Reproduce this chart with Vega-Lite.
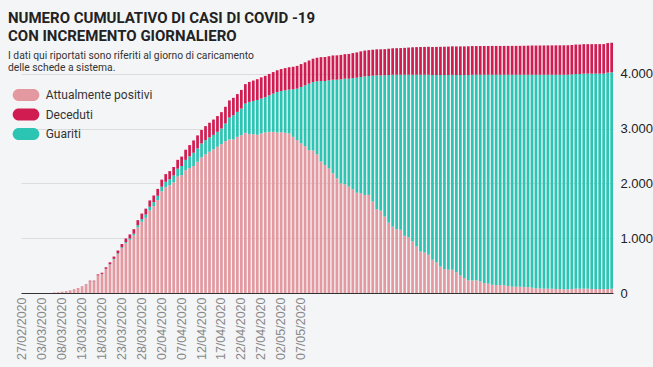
{
"$schema":"https://vega.github.io/schema/vega-lite/v6.json",
"width":592,"height":252,
"autosize":{"type":"none"},
"padding":{"left":21,"top":41,"right":40,"bottom":74},
"background":"#F4F5F7",
"title":{"text":["NUMERO CUMULATIVO DI CASI DI COVID -19","CON INCREMENTO GIORNALIERO"],
"subtitle":["I dati qui riportati sono riferiti al giorno di caricamento","delle schede a sistema."],
"anchor":"start","frame":"group","dx":-13,"offset":-32,
"font":"Roboto","fontSize":15,"fontWeight":"bold","color":"#222222","lineHeight":18,
"subtitleFont":"Roboto","subtitleFontSize":10.3,"subtitleColor":"#333333","subtitleLineHeight":11.5,"subtitlePadding":7},
"data":{"values":[
{"d":"27/02/2020","pos":0,"guar":0,"dec":0},
{"d":"28/02/2020","pos":0,"guar":0,"dec":0},
{"d":"29/02/2020","pos":0,"guar":0,"dec":0},
{"d":"01/03/2020","pos":0,"guar":0,"dec":0},
{"d":"02/03/2020","pos":0,"guar":0,"dec":0},
{"d":"03/03/2020","pos":0,"guar":0,"dec":0},
{"d":"04/03/2020","pos":0,"guar":0,"dec":0},
{"d":"05/03/2020","pos":0,"guar":0,"dec":0},
{"d":"06/03/2020","pos":10,"guar":0,"dec":0},
{"d":"07/03/2020","pos":15,"guar":0,"dec":0},
{"d":"08/03/2020","pos":25,"guar":0,"dec":0},
{"d":"09/03/2020","pos":35,"guar":0,"dec":0},
{"d":"10/03/2020","pos":50,"guar":0,"dec":0},
{"d":"11/03/2020","pos":68,"guar":0,"dec":2},
{"d":"12/03/2020","pos":87,"guar":0,"dec":3},
{"d":"13/03/2020","pos":113,"guar":2,"dec":5},
{"d":"14/03/2020","pos":144,"guar":3,"dec":8},
{"d":"15/03/2020","pos":210,"guar":3,"dec":12},
{"d":"16/03/2020","pos":210,"guar":3,"dec":12},
{"d":"17/03/2020","pos":319,"guar":3,"dec":18},
{"d":"18/03/2020","pos":345,"guar":3,"dec":22},
{"d":"19/03/2020","pos":437,"guar":5,"dec":28},
{"d":"20/03/2020","pos":517,"guar":8,"dec":35},
{"d":"21/03/2020","pos":613,"guar":10,"dec":42},
{"d":"22/03/2020","pos":713,"guar":12,"dec":50},
{"d":"23/03/2020","pos":822,"guar":15,"dec":58},
{"d":"24/03/2020","pos":909,"guar":20,"dec":66},
{"d":"25/03/2020","pos":971,"guar":25,"dec":74},
{"d":"26/03/2020","pos":1053,"guar":30,"dec":82},
{"d":"27/03/2020","pos":1198,"guar":40,"dec":92},
{"d":"28/03/2020","pos":1300,"guar":50,"dec":100},
{"d":"29/03/2020","pos":1372,"guar":60,"dec":108},
{"d":"30/03/2020","pos":1505,"guar":70,"dec":115},
{"d":"31/03/2020","pos":1585,"guar":75,"dec":120},
{"d":"01/04/2020","pos":1695,"guar":80,"dec":125},
{"d":"02/04/2020","pos":1855,"guar":85,"dec":130},
{"d":"03/04/2020","pos":1930,"guar":100,"dec":140},
{"d":"04/04/2020","pos":1967,"guar":110,"dec":148},
{"d":"05/04/2020","pos":2020,"guar":125,"dec":155},
{"d":"06/04/2020","pos":2125,"guar":145,"dec":160},
{"d":"07/04/2020","pos":2153,"guar":165,"dec":172},
{"d":"08/04/2020","pos":2240,"guar":190,"dec":185},
{"d":"09/04/2020","pos":2280,"guar":215,"dec":205},
{"d":"10/04/2020","pos":2317,"guar":243,"dec":225},
{"d":"11/04/2020","pos":2396,"guar":243,"dec":238},
{"d":"12/04/2020","pos":2475,"guar":255,"dec":246},
{"d":"13/04/2020","pos":2530,"guar":260,"dec":256},
{"d":"14/04/2020","pos":2578,"guar":262,"dec":268},
{"d":"15/04/2020","pos":2621,"guar":265,"dec":280},
{"d":"16/04/2020","pos":2669,"guar":273,"dec":288},
{"d":"17/04/2020","pos":2718,"guar":285,"dec":298},
{"d":"18/04/2020","pos":2772,"guar":322,"dec":305},
{"d":"19/04/2020","pos":2803,"guar":400,"dec":312},
{"d":"20/04/2020","pos":2803,"guar":442,"dec":318},
{"d":"21/04/2020","pos":2851,"guar":455,"dec":325},
{"d":"22/04/2020","pos":2881,"guar":486,"dec":340},
{"d":"23/04/2020","pos":2924,"guar":534,"dec":355},
{"d":"24/04/2020","pos":2900,"guar":588,"dec":365},
{"d":"25/04/2020","pos":2900,"guar":606,"dec":372},
{"d":"26/04/2020","pos":2888,"guar":635,"dec":380},
{"d":"27/04/2020","pos":2912,"guar":638,"dec":386},
{"d":"28/04/2020","pos":2930,"guar":645,"dec":388},
{"d":"29/04/2020","pos":2942,"guar":667,"dec":390},
{"d":"30/04/2020","pos":2942,"guar":698,"dec":393},
{"d":"01/05/2020","pos":2930,"guar":740,"dec":396},
{"d":"02/05/2020","pos":2936,"guar":752,"dec":400},
{"d":"03/05/2020","pos":2924,"guar":776,"dec":405},
{"d":"04/05/2020","pos":2912,"guar":801,"dec":408},
{"d":"05/05/2020","pos":2851,"guar":868,"dec":411},
{"d":"06/05/2020","pos":2790,"guar":941,"dec":415},
{"d":"07/05/2020","pos":2730,"guar":1031,"dec":418},
{"d":"08/05/2020","pos":2681,"guar":1110,"dec":420},
{"d":"09/05/2020","pos":2609,"guar":1213,"dec":422},
{"d":"10/05/2020","pos":2600,"guar":1252,"dec":425},
{"d":"11/05/2020","pos":2530,"guar":1334,"dec":430},
{"d":"12/05/2020","pos":2400,"guar":1470,"dec":435},
{"d":"13/05/2020","pos":2335,"guar":1535,"dec":438},
{"d":"14/05/2020","pos":2275,"guar":1607,"dec":440},
{"d":"15/05/2020","pos":2184,"guar":1710,"dec":442},
{"d":"16/05/2020","pos":2093,"guar":1801,"dec":444},
{"d":"17/05/2020","pos":2002,"guar":1898,"dec":446},
{"d":"18/05/2020","pos":1984,"guar":1928,"dec":448},
{"d":"19/05/2020","pos":1941,"guar":1971,"dec":452},
{"d":"20/05/2020","pos":1893,"guar":2031,"dec":456},
{"d":"21/05/2020","pos":1832,"guar":2098,"dec":462},
{"d":"22/05/2020","pos":1820,"guar":2123,"dec":468},
{"d":"23/05/2020","pos":1790,"guar":2165,"dec":470},
{"d":"24/05/2020","pos":1790,"guar":2171,"dec":472},
{"d":"25/05/2020","pos":1668,"guar":2299,"dec":474},
{"d":"26/05/2020","pos":1529,"guar":2444,"dec":475},
{"d":"27/05/2020","pos":1504,"guar":2469,"dec":476},
{"d":"28/05/2020","pos":1395,"guar":2578,"dec":478},
{"d":"29/05/2020","pos":1286,"guar":2693,"dec":480},
{"d":"30/05/2020","pos":1213,"guar":2772,"dec":482},
{"d":"31/05/2020","pos":1165,"guar":2820,"dec":484},
{"d":"01/06/2020","pos":1153,"guar":2832,"dec":486},
{"d":"02/06/2020","pos":1044,"guar":2941,"dec":490},
{"d":"03/06/2020","pos":1020,"guar":2965,"dec":495},
{"d":"04/06/2020","pos":940,"guar":3045,"dec":500},
{"d":"05/06/2020","pos":849,"guar":3136,"dec":503},
{"d":"06/06/2020","pos":758,"guar":3227,"dec":505},
{"d":"07/06/2020","pos":740,"guar":3245,"dec":507},
{"d":"08/06/2020","pos":698,"guar":3287,"dec":509},
{"d":"09/06/2020","pos":607,"guar":3373,"dec":510},
{"d":"10/06/2020","pos":558,"guar":3422,"dec":512},
{"d":"11/06/2020","pos":485,"guar":3495,"dec":514},
{"d":"12/06/2020","pos":437,"guar":3543,"dec":516},
{"d":"13/06/2020","pos":425,"guar":3555,"dec":518},
{"d":"14/06/2020","pos":425,"guar":3558,"dec":520},
{"d":"15/06/2020","pos":380,"guar":3600,"dec":521},
{"d":"16/06/2020","pos":320,"guar":3660,"dec":522},
{"d":"17/06/2020","pos":272,"guar":3708,"dec":522},
{"d":"18/06/2020","pos":230,"guar":3750,"dec":523},
{"d":"19/06/2020","pos":230,"guar":3755,"dec":523},
{"d":"20/06/2020","pos":230,"guar":3755,"dec":523},
{"d":"21/06/2020","pos":212,"guar":3773,"dec":524},
{"d":"22/06/2020","pos":181,"guar":3804,"dec":524},
{"d":"23/06/2020","pos":170,"guar":3815,"dec":524},
{"d":"24/06/2020","pos":151,"guar":3834,"dec":525},
{"d":"25/06/2020","pos":145,"guar":3840,"dec":525},
{"d":"26/06/2020","pos":145,"guar":3840,"dec":525},
{"d":"27/06/2020","pos":145,"guar":3840,"dec":525},
{"d":"28/06/2020","pos":127,"guar":3858,"dec":526},
{"d":"29/06/2020","pos":115,"guar":3870,"dec":526},
{"d":"30/06/2020","pos":115,"guar":3870,"dec":526},
{"d":"01/07/2020","pos":115,"guar":3870,"dec":527},
{"d":"02/07/2020","pos":109,"guar":3876,"dec":528},
{"d":"03/07/2020","pos":109,"guar":3876,"dec":530},
{"d":"04/07/2020","pos":97,"guar":3888,"dec":531},
{"d":"05/07/2020","pos":85,"guar":3900,"dec":532},
{"d":"06/07/2020","pos":85,"guar":3900,"dec":533},
{"d":"07/07/2020","pos":79,"guar":3906,"dec":534},
{"d":"08/07/2020","pos":79,"guar":3906,"dec":535},
{"d":"09/07/2020","pos":79,"guar":3906,"dec":535},
{"d":"10/07/2020","pos":73,"guar":3912,"dec":536},
{"d":"11/07/2020","pos":73,"guar":3912,"dec":536},
{"d":"12/07/2020","pos":67,"guar":3918,"dec":537},
{"d":"13/07/2020","pos":67,"guar":3918,"dec":537},
{"d":"14/07/2020","pos":73,"guar":3918,"dec":537},
{"d":"15/07/2020","pos":79,"guar":3918,"dec":538},
{"d":"16/07/2020","pos":79,"guar":3918,"dec":538},
{"d":"17/07/2020","pos":79,"guar":3925,"dec":538},
{"d":"18/07/2020","pos":79,"guar":3925,"dec":538},
{"d":"19/07/2020","pos":73,"guar":3931,"dec":539},
{"d":"20/07/2020","pos":73,"guar":3931,"dec":539},
{"d":"21/07/2020","pos":73,"guar":3931,"dec":539},
{"d":"22/07/2020","pos":67,"guar":3937,"dec":540},
{"d":"23/07/2020","pos":73,"guar":3949,"dec":540},
{"d":"24/07/2020","pos":79,"guar":3949,"dec":540}
]},
"transform":[{"fold":["pos","guar","dec"],"as":["k","v"]}],
"mark":{"type":"bar"},
"encoding":{
"x":{"field":"d","type":"ordinal","sort":null,
 "scale":{"paddingInner":0.32,"paddingOuter":0},
 "axis":{"title":null,"values":["27/02/2020","03/03/2020","08/03/2020","13/03/2020","18/03/2020","23/03/2020","28/03/2020","02/04/2020","07/04/2020","12/04/2020","17/04/2020","22/04/2020","27/04/2020","02/05/2020","07/05/2020"],
 "labelAngle":-90,"labelFontSize":12.5,"labelColor":"#888888","labelFont":"Liberation Sans","ticks":false,"domain":true,"domainColor":"#333333","domainWidth":1,"labelPadding":4,"grid":false}},
"y":{"field":"v","type":"quantitative","stack":"zero",
 "scale":{"domain":[0,4600],"nice":false},
 "axis":{"title":null,"orient":"right","domain":false,"ticks":false,"values":[0,1000,2000,3000,4000],"format":",d","labelExpr":"replace(datum.label, ',', '.')",
 "gridColor":"#DCDCDC","gridWidth":1,"labelPadding":7,"labelFontSize":13,"labelColor":"#222222","labelFont":"Liberation Sans"}},
"color":{"field":"k","type":"nominal",
 "scale":{"domain":["pos","dec","guar"],"range":["#E3999F","#D01C50","#2CC4B2"]},
 "legend":{"orient":"none","legendX":-1,"legendY":48,"title":null,"padding":0,
 "symbolType":"M-1.22,-1 L1.22,-1 A1,1 0 0 1 1.22,1 L-1.22,1 A1,1 0 0 1 -1.22,-1 Z",
 "symbolSize":144,"symbolStrokeWidth":0,"symbolOpacity":1,"labelOffset":13.7,"labelFontSize":12,"labelColor":"#333333","labelFont":"Roboto","rowPadding":7.5,
 "labelExpr":"datum.label == 'pos' ? 'Attualmente positivi' : datum.label == 'dec' ? 'Deceduti' : 'Guariti'"}},
"order":{"field":"k","sort":"descending"}
},
"config":{"view":{"stroke":null}}
}
